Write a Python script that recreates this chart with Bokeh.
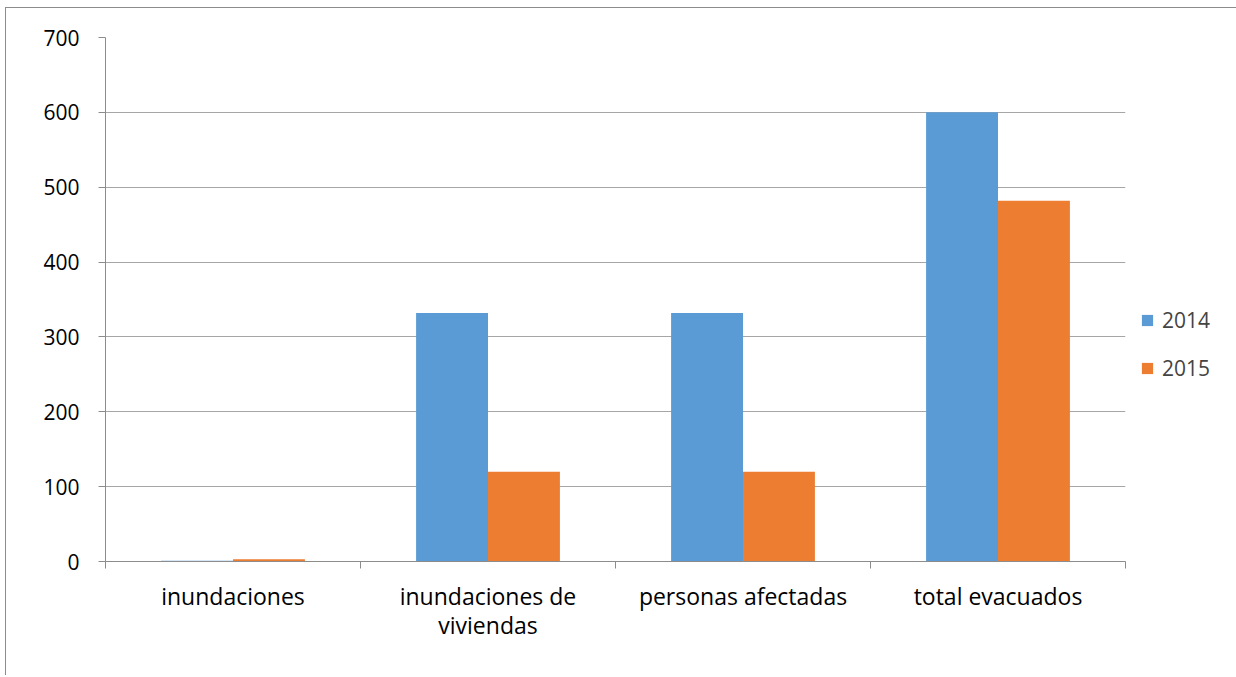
from bokeh.plotting import figure
from bokeh.models import (Range1d, LinearAxis, FixedTicker, Legend, LegendItem, ColumnDataSource)
from bokeh.embed import file_html
from bokeh.resources import INLINE

categories = ["inundaciones", "inundaciones de\nviviendas", "personas afectadas", "total evacuados"]
series_names = ["2014", "2015"]
values_2014 = [1, 332, 332, 600]
values_2015 = [3, 120, 120, 482]
y_ticks = [0, 100, 200, 300, 400, 500, 600, 700]

colors = ["#5B9BD5", "#ED7D31"]
FONT = "Open Sans"
FSIZE = "21px"
CSIZE = "23px"
GRID = "#A6A6A6"
AXIS = "#8C8C8C"

p = figure(frame_width=1020, frame_height=524, output_backend="svg", toolbar_location=None,
           x_range=Range1d(0, len(categories)), y_range=Range1d(0, 700),
           min_border_left=99, min_border_right=10, min_border_top=29, min_border_bottom=114,
           x_axis_location=None, y_axis_location=None)
p.outline_line_color = None
p.styles = {"border-left": "1px solid #8C8C8C", "border-top": "1px solid #8C8C8C",
            "margin-left": "5px", "margin-top": "7px"}

bw = 0.282
idx = list(range(len(categories)))
centers = [i + 0.5 for i in idx]
boundaries = list(range(len(categories) + 1))
src = ColumnDataSource(dict(
    x14=[c - bw / 2 for c in centers],
    x15=[c + bw / 2 for c in centers],
    v14=values_2014, v15=values_2015))
r14 = p.vbar(x="x14", top="v14", bottom=0, width=bw, source=src, fill_color=colors[0], line_color=None)
r15 = p.vbar(x="x15", top="v15", bottom=0, width=bw, source=src, fill_color=colors[1], line_color=None)

# grid
p.xgrid.visible = False
p.ygrid.ticker = FixedTicker(ticks=y_ticks)
p.ygrid.grid_line_color = GRID
p.ygrid.grid_line_width = 1

# y axis
yax = LinearAxis(ticker=FixedTicker(ticks=y_ticks))
yax.axis_line_color = AXIS
yax.major_tick_line_color = AXIS
yax.major_tick_out = 7
yax.major_tick_in = 0
yax.minor_tick_line_color = None
yax.major_label_text_font = FONT
yax.major_label_text_font_size = FSIZE
yax.major_label_text_color = "#000000"
yax.major_label_standoff = 19
p.add_layout(yax, "left")

# category axis: labels at centers, boundary ticks as minor ticks
cax = LinearAxis(ticker=FixedTicker(ticks=centers, minor_ticks=boundaries),
                 major_label_overrides={c: name for c, name in zip(centers, categories)})
cax.axis_line_color = AXIS
cax.major_tick_line_color = None
cax.major_tick_out = 7
cax.major_tick_in = 0
cax.minor_tick_line_color = AXIS
cax.minor_tick_out = 7
cax.minor_tick_in = 0
cax.major_label_text_font = FONT
cax.major_label_text_font_size = CSIZE
cax.major_label_text_line_height = 0.92
cax.major_label_text_color = "#000000"
cax.major_label_standoff = 11
p.add_layout(cax, "below")

legend = Legend(items=[LegendItem(label=series_names[0], renderers=[r14]),
                       LegendItem(label=series_names[1], renderers=[r15])],
                location=(15, 179))
legend.border_line_color = None
legend.background_fill_alpha = 0
legend.glyph_width = 14
legend.glyph_height = 14
legend.label_text_font = FONT
legend.label_text_font_size = FSIZE
legend.label_height = 20
legend.spacing = 20
legend.padding = 5
legend.margin = 10
legend.label_standoff = 8
p.add_layout(legend, "right")

open("out.html", "w").write(file_html(p, INLINE))
